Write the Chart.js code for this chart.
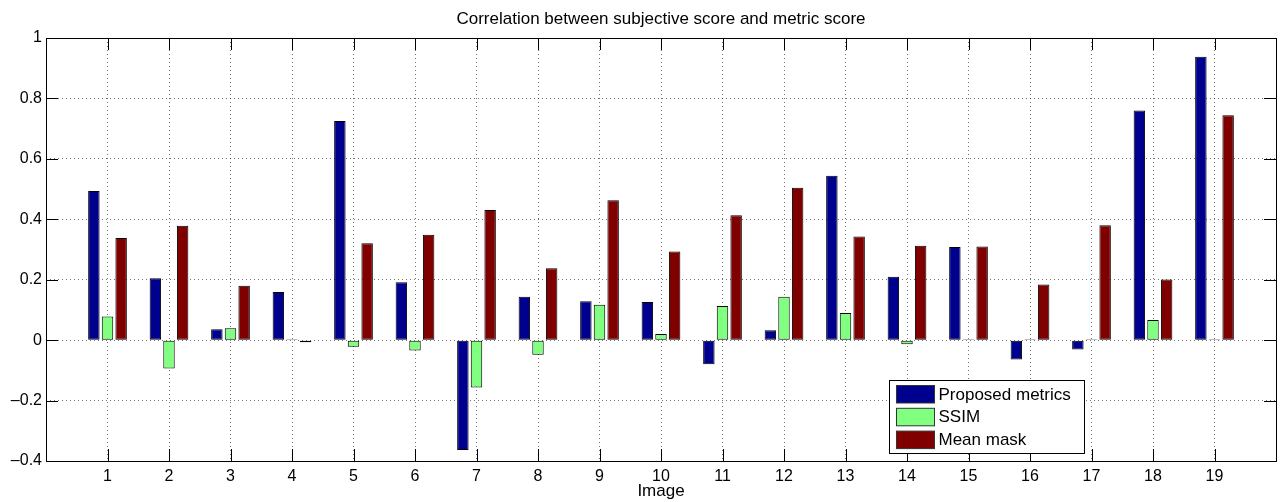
<!DOCTYPE html>
<html>
<head>
<meta charset="utf-8">
<script src="https://cdn.jsdelivr.net/npm/chart.js@4"></script>
<style>
  body { margin: 0; background: #fff; }
  #wrap { width: 1282px; height: 502px; position: relative; }
</style>
</head>
<body>
<div id="wrap"><canvas id="chart"></canvas></div>
<script>
// Chart data
const categories = ['1', '2', '3', '4', '5', '6', '7', '8', '9', '10',
                    '11', '12', '13', '14', '15', '16', '17', '18', '19'];
const proposed = [0.494, 0.205, 0.036, 0.159, 0.725, 0.192, -0.364, 0.144, 0.129, 0.126,
                  -0.080, 0.033, 0.544, 0.210, 0.308, -0.064, -0.031, 0.760, 0.938];
const ssim = [0.078, -0.094, 0.039, 0.002, -0.022, -0.034, -0.157, -0.048, 0.117, 0.020,
              0.113, 0.144, 0.090, -0.014, 0.002, 0.002, 0.002, 0.067, 0.002];
const meanMask = [0.338, 0.379, 0.180, -0.007, 0.321, 0.349, 0.431, 0.238, 0.463, 0.293,
                  0.413, 0.504, 0.343, 0.312, 0.310, 0.184, 0.380, 0.201, 0.744];
const yTicks = [-0.4, -0.2, 0, 0.2, 0.4, 0.6, 0.8, 1];
const chartTitle = 'Correlation between subjective score and metric score';

const FONT = "'Liberation Sans', Arial, Helvetica, sans-serif";

// empty slots at both ends so the axis runs from 0 to 20
const pad = arr => [null, ...arr, null];

const series = [
    { label: 'Proposed metrics', data: proposed, color: '#00008f' },
    { label: 'SSIM', data: ssim, color: '#80ff80' },
    { label: 'Mean mask', data: meanMask, color: '#800000' }
];

// MATLAB style: title over the axes, box, inward ticks, legend inside the axes
const matlabAxes = {
    id: 'matlabAxes',
    afterDraw(chart) {
        const ctx = chart.ctx;
        const area = chart.chartArea;
        const x = chart.scales.x, y = chart.scales.y;
        ctx.save();

        ctx.fillStyle = '#000';
        ctx.font = '17px ' + FONT;
        ctx.textAlign = 'center';
        ctx.textBaseline = 'middle';
        ctx.fillText(chartTitle, (area.left + area.right) / 2, area.top - 19);

        ctx.setLineDash([]);
        ctx.strokeStyle = '#000';
        ctx.lineWidth = 1;
        ctx.beginPath();
        for (let i = 1; i <= categories.length; i++) {
            const px = Math.round(x.getPixelForValue(i)) + 0.5;
            ctx.moveTo(px, area.bottom); ctx.lineTo(px, area.bottom - 12);
            ctx.moveTo(px, area.top); ctx.lineTo(px, area.top + 12);
        }
        yTicks.forEach(v => {
            const py = Math.round(y.getPixelForValue(v)) + 0.5;
            ctx.moveTo(area.left, py); ctx.lineTo(area.left + 12, py);
            ctx.moveTo(area.right, py); ctx.lineTo(area.right - 12, py);
        });
        ctx.stroke();
        ctx.strokeRect(Math.round(area.left) + 0.5, Math.round(area.top) + 0.5,
                       Math.round(area.right - area.left), Math.round(area.bottom - area.top));

        // legend
        const bx = Math.round(area.left + 0.6853 * (area.right - area.left)) + 0.5;
        const by = Math.round(area.bottom - 81) + 0.5;
        const bw = 195, bh = 73;
        ctx.fillStyle = '#fff';
        ctx.fillRect(bx, by, bw, bh);
        ctx.strokeRect(bx, by, bw, bh);
        ctx.textAlign = 'left';
        series.forEach((s, i) => {
            const sy = by + 5 + i * 22.8;
            ctx.fillStyle = s.color;
            ctx.fillRect(bx + 7, sy, 38, 17.5);
            ctx.strokeStyle = '#333';
            ctx.strokeRect(bx + 7, sy, 38, 17.5);
            ctx.fillStyle = '#000';
            ctx.fillText(s.label, bx + 49, sy + 9.5);
        });
        ctx.restore();
    }
};

const ctx = document.getElementById('chart');
new Chart(ctx, {
    type: 'bar',
    data: {
        labels: pad(categories).map(v => v === null ? '' : v),
        datasets: series.map(s => ({
            label: s.label,
            data: pad(s.data),
            backgroundColor: s.color,
            borderColor: '#000',
            borderWidth: 1,
            borderSkipped: false,
            minBarLength: 1,
            categoryPercentage: 0.665,
            barPercentage: 0.84
        }))
    },
    options: {
        responsive: true,
        maintainAspectRatio: false,
        animation: false,
        layout: { padding: { left: 0, right: 2, top: 38, bottom: 0 } },
        plugins: {
            legend: { display: false },
            tooltip: { enabled: false },
            title: { display: false }
        },
        scales: {
            x: {
                offset: false,
                grid: {
                    offset: false,
                    drawTicks: false,
                    color: c => (c.index === 0 || c.index === categories.length + 1) ? 'rgba(0,0,0,0)' : 'rgba(0,0,0,0.55)',
                    lineWidth: 1
                },
                border: { display: false, dash: [1, 3] },
                ticks: {
                    color: '#000',
                    autoSkip: false,
                    maxRotation: 0,
                    padding: 6,
                    font: { family: FONT, size: 16 }
                },
                title: {
                    display: true,
                    text: 'Image',
                    color: '#000',
                    font: { family: FONT, size: 17 },
                    padding: { top: 0, bottom: 0 }
                },
                afterFit: scale => { scale.height = 41; }
            },
            y: {
                min: -0.4,
                max: 1,
                afterBuildTicks: scale => { scale.ticks = yTicks.map(v => ({ value: v })); },
                grid: {
                    drawTicks: false,
                    color: c => (c.tick && (c.tick.value === -0.4 || c.tick.value === 1)) ? 'rgba(0,0,0,0)' : 'rgba(0,0,0,0.55)',
                    lineWidth: 1
                },
                border: { display: false, dash: [1, 3] },
                ticks: {
                    color: '#000',
                    padding: 4,
                    font: { family: FONT, size: 16 },
                    callback: v => {
                        const r = Math.round(v * 10) / 10;
                        return r < 0 ? '\u2013' + Math.abs(r) : String(r);
                    }
                },
                afterFit: scale => { scale.width = 46; }
            }
        }
    },
    plugins: [matlabAxes]
});
</script>
</body>
</html>
